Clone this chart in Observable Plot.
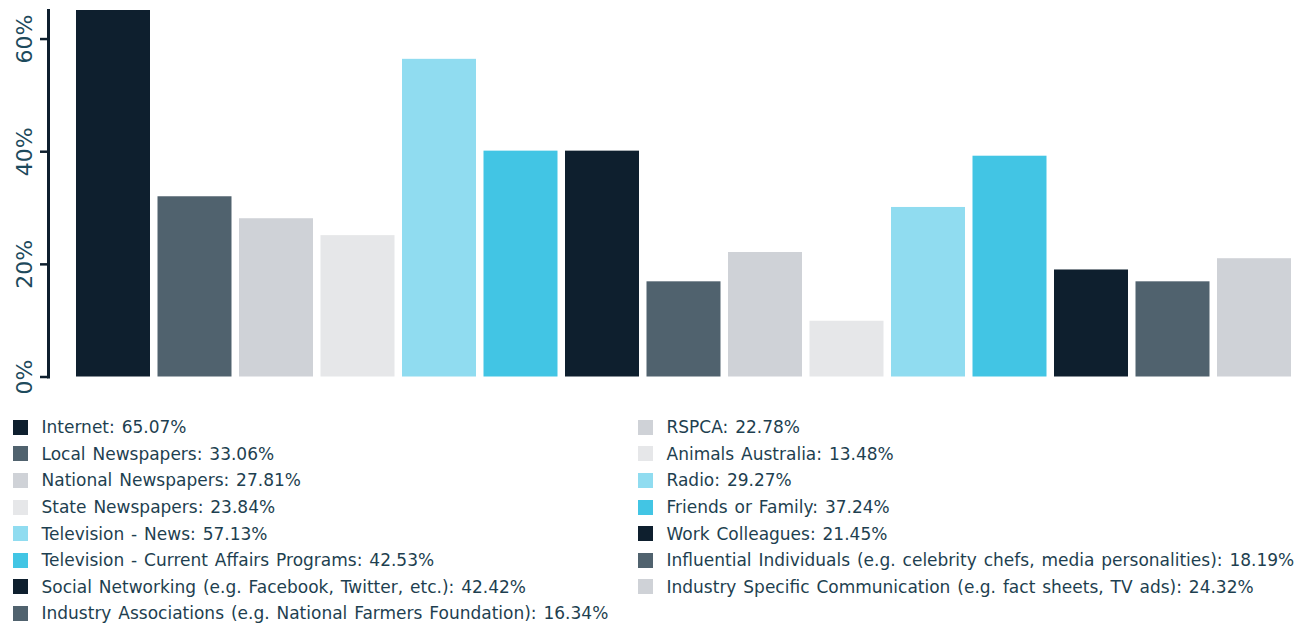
<!DOCTYPE html>
<html>
<head>
<meta charset="utf-8">
<script src="https://cdn.jsdelivr.net/npm/d3@7"></script>
<script src="https://cdn.jsdelivr.net/npm/@observablehq/plot@0.6"></script>
<style>
  html, body { margin: 0; padding: 0; background: #fff; }
  #chart svg { display: block; }
  #legend {
    display: grid;
    grid-auto-flow: column;
    grid-template-rows: repeat(8, 26.6px);
    grid-template-columns: 625px auto;
    padding-left: 13px;
    padding-top: 14px;
    font-family: "DejaVu Sans", sans-serif;
    font-size: 17px;
    word-spacing: 1.5px;
    color: #1e3f50;
  }
  .item { display: flex; align-items: center; white-space: nowrap; }
  .sw { width: 15px; height: 15px; margin-right: 13.5px; flex: none; }
</style>
</head>
<body>
<div id="chart"></div>
<div id="legend"></div>
<script>
const categories = [
  "Internet",
  "Local Newspapers",
  "National Newspapers",
  "State Newspapers",
  "Television - News",
  "Television - Current Affairs Programs",
  "Social Networking (e.g. Facebook, Twitter, etc.)",
  "Industry Associations (e.g. National Farmers Foundation)",
  "RSPCA",
  "Animals Australia",
  "Radio",
  "Friends or Family",
  "Work Colleagues",
  "Influential Individuals (e.g. celebrity chefs, media personalities)",
  "Industry Specific Communication (e.g. fact sheets, TV ads)"
];
// bar heights as drawn in the picture (%)
const barValues = [65.07, 32.0, 28.1, 25.1, 56.4, 40.1, 40.1, 16.9, 22.1, 9.9, 30.1, 39.2, 19.0, 16.9, 21.0];
// values printed in the legend
const legendValues = ["65.07", "33.06", "27.81", "23.84", "57.13", "42.53", "42.42", "16.34",
                      "22.78", "13.48", "29.27", "37.24", "21.45", "18.19", "24.32"];
const palette = ["#0e1f2e", "#50626e", "#cfd2d7", "#e6e7e9", "#90dcf0", "#42c5e4"];
const yTicks = [0, 20, 40, 60];

const data = categories.map((c, i) => ({
  cat: c, value: barValues[i], label: legendValues[i], color: palette[i % palette.length]
}));

const chart = Plot.plot({
  width: 1316,
  height: 400,
  marginLeft: 48,
  marginRight: 17.5,
  marginTop: 10,
  marginBottom: 23.5,
  x: { type: "band", domain: categories, padding: 0.092, round: false, insetLeft: 20.5, axis: null },
  y: { domain: [0, 65.07], axis: null },
  color: { type: "identity" },
  marks: [
    Plot.barY(data, { x: "cat", y: "value", fill: "color" }),
    Plot.frame({ anchor: "left", stroke: "#0e1f2e", strokeWidth: 3 }),
    Plot.axisY({ ticks: yTicks, label: null, tickSize: 8, tickFormat: () => "", stroke: "#0e1f2e", strokeWidth: 2.5 }),
    Plot.text(yTicks, {
      y: d => d, text: d => d + "%", frameAnchor: "left", dx: -24, rotate: -90,
      textAnchor: "middle", lineAnchor: "middle", fontSize: 22, fill: "#1d4a5c",
      fontFamily: "DejaVu Sans"
    })
  ]
});
chart.style.overflow = "visible";
document.getElementById("chart").appendChild(chart);

const legend = document.getElementById("legend");
data.forEach(d => {
  const item = document.createElement("div");
  item.className = "item";
  const sw = document.createElement("span");
  sw.className = "sw";
  sw.style.background = d.color;
  const tx = document.createElement("span");
  tx.textContent = `${d.cat}: ${d.label}%`;
  item.appendChild(sw);
  item.appendChild(tx);
  legend.appendChild(item);
});
</script>
</body>
</html>
